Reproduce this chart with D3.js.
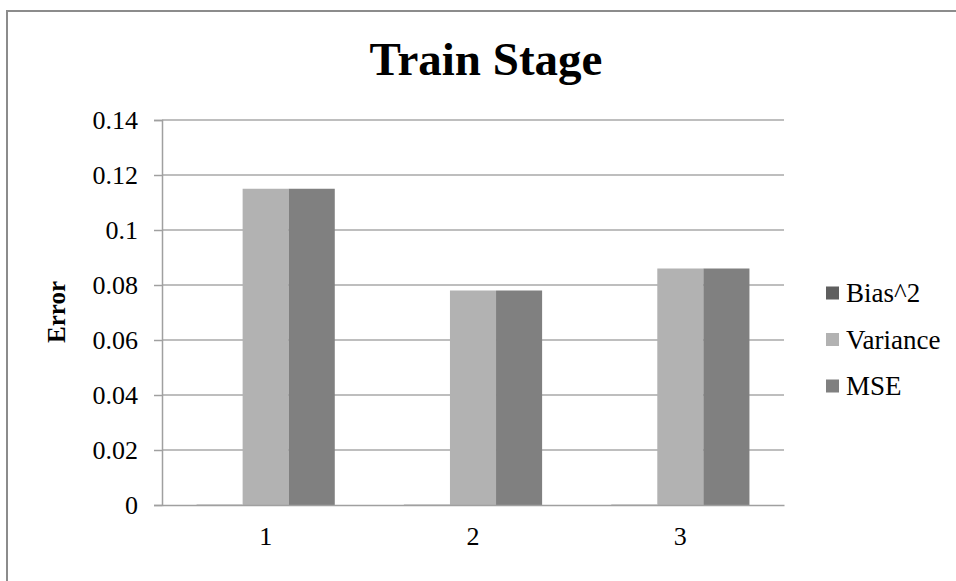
<!DOCTYPE html>
<html>
<head>
<meta charset="utf-8">
<script src="https://cdn.jsdelivr.net/npm/d3@7"></script>
<style>
  body { margin: 0; background: #fff; }
  text { font-family: "Liberation Serif", "Times New Roman", serif; }
</style>
</head>
<body>
<script>
const categories = ["1", "2", "3"]
const seriesNames = ["Bias^2", "Variance", "MSE"]
const bias2 = [0.0001, 0.0001, 0.0001]
const variance = [0.115, 0.078, 0.086]
const mse = [0.115, 0.078, 0.086]
const yTicks = [0, 0.02, 0.04, 0.06, 0.08, 0.1, 0.12, 0.14]

const width = 956
const height = 581
const colors = ["#5f5f5f", "#b2b2b2", "#808080"]

const svg = d3.select("body").append("svg")
  .attr("width", width)
  .attr("height", height)

// outer chart frame (right/bottom edges fall outside the picture)
svg.append("rect")
  .attr("x", 7).attr("y", 11)
  .attr("width", 980).attr("height", 600)
  .attr("fill", "#fff")
  .attr("stroke", "#8c8c8c")
  .attr("stroke-width", 2)

const x = d3.scaleBand()
  .domain(categories)
  .range([162, 784])
  .paddingInner(1/3)
  .paddingOuter(1/6)

const xInner = d3.scaleBand()
  .domain(seriesNames)
  .range([0, x.bandwidth()])

const y = d3.scaleLinear()
  .domain([0, 0.14])
  .range([505, 120])

// gridlines
svg.append("g")
  .selectAll("line")
  .data(yTicks.filter(d => d > 0))
  .enter().append("line")
  .attr("x1", 162).attr("x2", 784)
  .attr("y1", d => y(d)).attr("y2", d => y(d))
  .attr("stroke", "#a8a8a8")
  .attr("stroke-width", 1.5)

const rows = categories.map((c, i) => ({
  cat: c,
  vals: [bias2[i], variance[i], mse[i]]
}))

svg.append("g")
  .selectAll("g")
  .data(rows)
  .enter().append("g")
  .attr("transform", d => "translate(" + x(d.cat) + ",0)")
  .selectAll("rect")
  .data(d => d.vals.map((v, j) => ({ name: seriesNames[j], v: v, c: colors[j] })))
  .enter().append("rect")
  .attr("x", d => xInner(d.name))
  .attr("y", d => y(d.v))
  .attr("width", xInner.bandwidth())
  .attr("height", d => y(0) - y(d.v))
  .attr("fill", d => d.c)

// y axis
const yAxis = d3.axisLeft(y)
  .tickValues(yTicks)
  .tickSize(8)
  .tickPadding(16)
  .tickFormat(d => d3.format("")(+d.toFixed(2)))

const gY = svg.append("g")
  .attr("transform", "translate(162,0)")
  .call(yAxis)
gY.select(".domain").attr("stroke", "#a0a0a0").attr("stroke-width", 1.5)
gY.selectAll(".tick line").attr("stroke", "#a0a0a0").attr("stroke-width", 1.5)
gY.selectAll(".tick text")
  .attr("font-family", "Liberation Serif")
  .attr("font-size", 26)
  .attr("fill", "#000")

// x axis
const xAxis = d3.axisBottom(x).tickSize(0).tickPadding(22)
const gX = svg.append("g")
  .attr("transform", "translate(0,505)")
  .call(xAxis)
gX.select(".domain").attr("stroke", "#a0a0a0").attr("stroke-width", 1.5)
gX.selectAll(".tick text")
  .attr("font-family", "Liberation Serif")
  .attr("font-size", 26)
  .attr("fill", "#000")

// title
svg.append("text")
  .attr("x", 486).attr("y", 75)
  .attr("text-anchor", "middle")
  .attr("font-size", 47)
  .attr("font-weight", "bold")
  .text("Train Stage")

// y label
svg.append("text")
  .attr("transform", "translate(65,312) rotate(-90)")
  .attr("text-anchor", "middle")
  .attr("font-size", 25)
  .attr("font-weight", "bold")
  .text("Error")

// legend
const legend = svg.append("g")
const ly = d3.scalePoint().domain(seriesNames).range([293, 386])
legend.selectAll("rect")
  .data(seriesNames)
  .enter().append("rect")
  .attr("x", 826)
  .attr("y", d => ly(d) - 6.5)
  .attr("width", 13).attr("height", 13)
  .attr("fill", (d, i) => colors[i])
legend.selectAll("text")
  .data(seriesNames)
  .enter().append("text")
  .attr("x", 846)
  .attr("y", d => ly(d) + 9)
  .attr("font-size", 27)
  .text(d => d)
</script>
</body>
</html>
